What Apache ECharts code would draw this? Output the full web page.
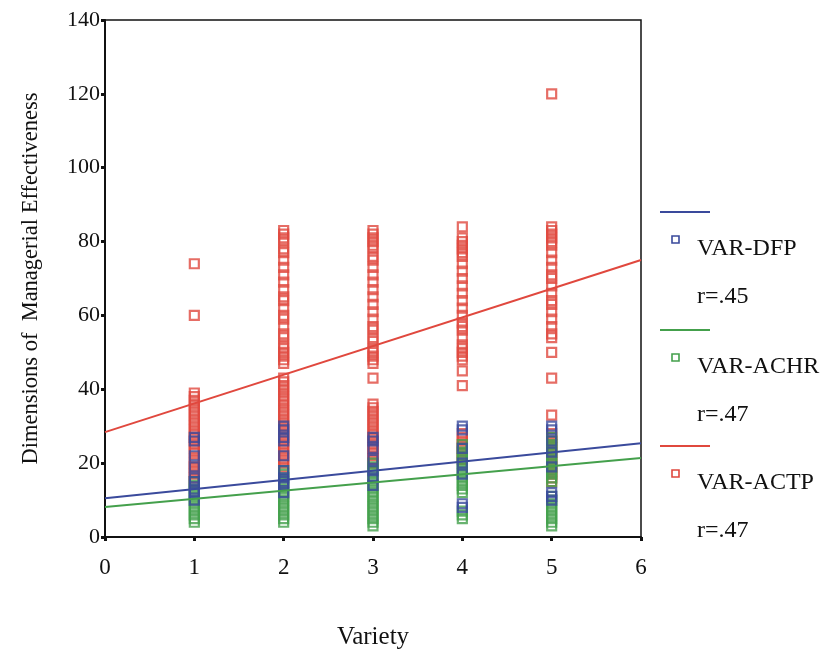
<!DOCTYPE html>
<html>
<head>
<meta charset="utf-8">
<script src="https://cdn.jsdelivr.net/npm/echarts@6/dist/echarts.min.js"></script>
<style>
  html, body { margin: 0; padding: 0; background: #fff; }
  #chart { width: 826px; height: 662px; }
</style>
</head>
<body>
<div id="chart"></div>
<script>
// Variety levels on the x axis
const varieties = [1, 2, 3, 4, 5];
const xTicks = [0, 1, 2, 3, 4, 5, 6];
const yTicks = [0, 20, 40, 60, 80, 100, 120, 140];

// VAR-ACTP scores at each variety level
const actp1 = [74, 60, 39, 38, 37, 36, 35, 34, 33, 32, 31, 30, 29, 28, 27, 26, 25, 24, 23, 21, 20, 19, 18, 17, 16, 15];
const actp2 = [83, 82, 81, 80, 78, 77, 75, 73, 71, 69, 67, 65, 64, 62, 60, 59, 57, 55, 54, 52, 51, 50, 49, 48, 47,
               43, 42, 41, 40, 39, 38, 37, 36, 35, 34, 33, 32, 31, 30, 29, 28, 27, 26, 25, 24, 23, 22, 21, 20, 19];
const actp3 = [83, 82, 81, 80, 79, 78, 76, 75, 73, 71, 69, 67, 65, 63, 61, 59, 57, 56, 54, 53, 51, 50, 49, 48, 47,
               43, 36, 35, 34, 33, 32, 31, 30, 29, 28, 27, 26, 25, 24, 23, 22, 21, 20];
const actp4 = [84, 81, 80, 79, 78, 77, 76, 74, 72, 70, 68, 66, 64, 62, 60, 58, 57, 56, 54, 52, 51, 50, 49, 48,
               45, 41, 28, 27, 26, 25, 24, 23, 22, 21];
const actp5 = [120, 84, 83, 82, 81, 80, 79, 77, 75, 73, 71, 70, 68, 66, 64, 63, 61, 59, 57, 55, 54, 50, 43, 33,
               28, 27, 26, 25, 24, 23, 22, 21, 20, 19, 18, 17, 16, 15];

// VAR-DFP scores at each variety level
const dfp1 = [27, 26, 22, 19, 16, 15, 13, 12, 10];
const dfp2 = [30, 29, 27, 26, 22, 18, 16, 15, 14, 12];
const dfp3 = [27, 26, 24, 21, 18, 16, 14];
const dfp4 = [30, 29, 24, 20, 17, 9, 8];
const dfp5 = [30, 29, 26, 23, 19, 12, 11, 10];

// VAR-ACHR scores at each variety level
const achr1 = [15, 14, 13, 12, 11, 10, 9, 8, 7, 6, 5, 4];
const achr2 = [18, 17, 16, 15, 14, 13, 12, 11, 10, 9, 8, 7, 6, 5, 4];
const achr3 = [20, 19, 18, 17, 16, 15, 14, 13, 12, 11, 10, 9, 8, 7, 6, 5, 4, 3];
const achr4 = [25, 24, 23, 22, 21, 20, 19, 18, 17, 16, 15, 14, 13, 12, 7, 6, 5];
const achr5 = [27, 26, 25, 24, 23, 22, 21, 20, 19, 18, 17, 16, 15, 11, 10, 9, 8, 7, 6, 5, 4, 3];

// Fitted regression lines: value at variety 0 and variety 6
const fitDfp = [10.5, 25.4];
const fitAchr = [8.1, 21.4];
const fitActp = [28.4, 75.0];
const fitX = [0, 6];

const seriesNames = ['VAR-DFP', 'VAR-ACHR', 'VAR-ACTP'];
const rValues = ['r=.45', 'r=.47', 'r=.47'];
const colors = ['#3a4a9c', '#44a04c', '#e0483e'];

function pairs(groups) {
  const out = [];
  groups.forEach((vals, i) => vals.forEach(v => out.push([varieties[i], v])));
  return out;
}
function fitLine(ends) {
  return fitX.map((x, i) => [x, ends[i]]);
}

const serif = '"Liberation Serif", "DejaVu Serif", serif';

function scatter(name, data, color) {
  return {
    name, type: 'scatter', data,
    symbol: 'rect', symbolSize: 9,
    itemStyle: { color: 'rgba(255,255,255,0)', borderColor: color, borderWidth: 2.2 },
    silent: true
  };
}
function line(name, data, color) {
  return {
    name, type: 'line', data, showSymbol: false, silent: true, z: 5,
    lineStyle: { color, width: 2 }
  };
}

// Legend block on the right: line sample, marker with name, correlation text
const legendGraphics = [];
const legendTop = [212, 330, 446];
seriesNames.forEach((name, i) => {
  const y0 = legendTop[i];
  legendGraphics.push({
    type: 'line', shape: { x1: 660, y1: y0, x2: 710, y2: y0 },
    style: { stroke: colors[i], lineWidth: 2 }
  });
  legendGraphics.push({
    type: 'rect', shape: { x: 672, y: y0 + 24, width: 7, height: 7 },
    style: { fill: 'none', stroke: colors[i], lineWidth: 1.6 }
  });
  legendGraphics.push({
    type: 'text', x: 697, y: y0 + 37,
    style: { text: name, font: '24px ' + serif, fill: '#111', verticalAlign: 'middle' }
  });
  legendGraphics.push({
    type: 'text', x: 697, y: y0 + 85,
    style: { text: rValues[i], font: '24px ' + serif, fill: '#111', verticalAlign: 'middle' }
  });
});

const chart = echarts.init(document.getElementById('chart'));
chart.setOption({
  backgroundColor: '#fff',
  animation: false,
  grid: {
    left: 105, right: 185, top: 20, bottom: 125,
    show: true, borderColor: '#111', borderWidth: 1.5, backgroundColor: 'transparent'
  },
  xAxis: {
    type: 'value', min: xTicks[0], max: xTicks[xTicks.length - 1], interval: 1,
    name: 'Variety', nameLocation: 'middle', nameGap: 88,
    nameTextStyle: { fontFamily: serif, fontSize: 25, color: '#111' },
    axisLine: { lineStyle: { color: '#111', width: 2 } },
    axisTick: { show: true, length: 4, lineStyle: { color: '#111', width: 3 } },
    axisLabel: { fontFamily: serif, fontSize: 23, color: '#111', margin: 19 },
    splitLine: { show: false }
  },
  yAxis: {
    type: 'value', min: yTicks[0], max: yTicks[yTicks.length - 1], interval: 20,
    name: 'Dimensions of  Managerial Effectiveness', nameLocation: 'middle', nameGap: 62,
    nameTextStyle: { fontFamily: serif, fontSize: 22.5, color: '#111' },
    axisLine: { show: true, lineStyle: { color: '#111', width: 2 } },
    axisTick: { show: true, length: 4, lineStyle: { color: '#111', width: 3 } },
    axisLabel: { fontFamily: serif, fontSize: 22, color: '#111', margin: 5 },
    splitLine: { show: false }
  },
  series: [
    scatter(seriesNames[2], pairs([actp1, actp2, actp3, actp4, actp5]), colors[2]),
    scatter(seriesNames[1], pairs([achr1, achr2, achr3, achr4, achr5]), colors[1]),
    scatter(seriesNames[0], pairs([dfp1, dfp2, dfp3, dfp4, dfp5]), colors[0]),
    line(seriesNames[2] + ' fit', fitLine(fitActp), colors[2]),
    line(seriesNames[0] + ' fit', fitLine(fitDfp), colors[0]),
    line(seriesNames[1] + ' fit', fitLine(fitAchr), colors[1])
  ],
  graphic: legendGraphics
});
</script>
</body>
</html>
